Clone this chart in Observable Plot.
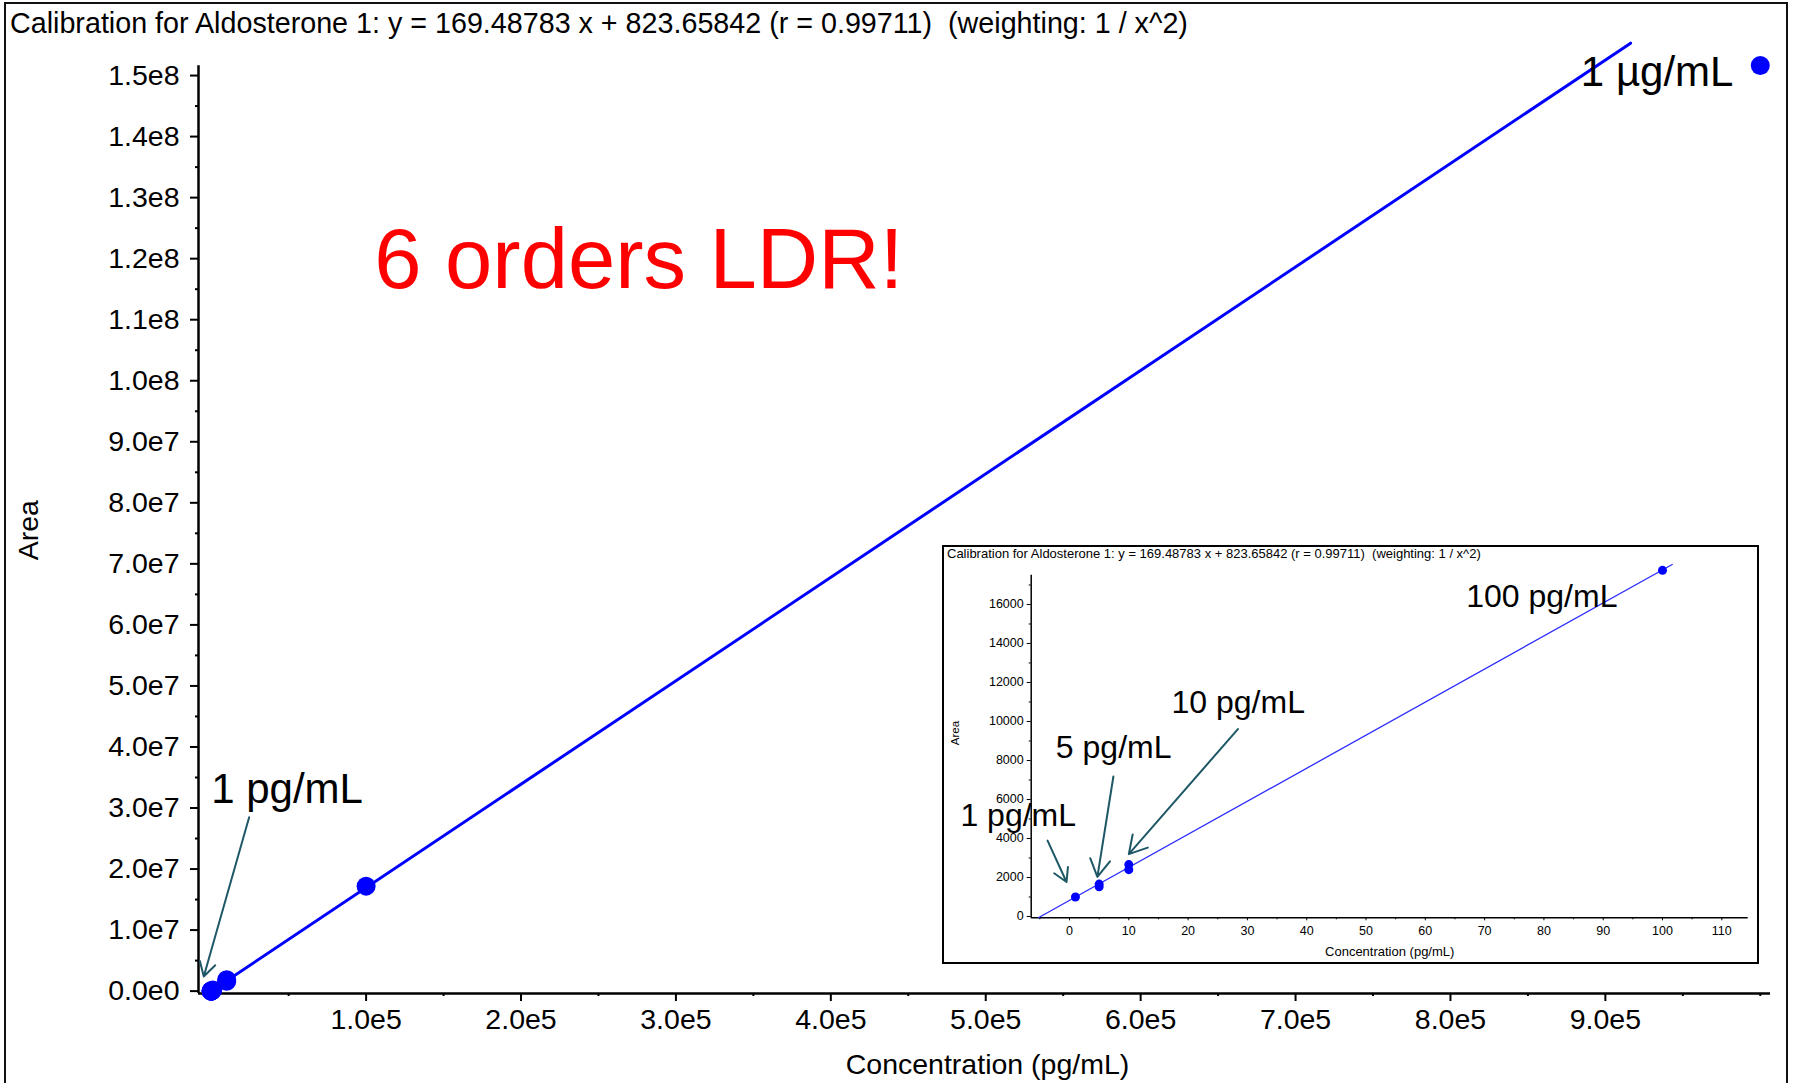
<!DOCTYPE html>
<html>
<head>
<meta charset="utf-8">
<script src="https://cdn.jsdelivr.net/npm/d3@7"></script>
<script src="https://cdn.jsdelivr.net/npm/@observablehq/plot@0.6"></script>
<style>
  html, body { margin: 0; padding: 0; background: #fff; }
  #page { position: relative; width: 1797px; height: 1083px; overflow: hidden;
          font-family: "Liberation Sans", Arial, sans-serif; color: #000; }
  #border { position: absolute; left: 4px; top: 2px; width: 1784px; height: 1120px;
            border: 2px solid #111; border-bottom: none; box-sizing: border-box; }
  #title { position: absolute; left: 10px; top: 9px; font-size: 28.7px; line-height: 28.7px; white-space: pre; }
  #main { position: absolute; left: 0; top: 40px; }
  #insetBox { position: absolute; left: 942px; top: 545px; width: 817px; height: 419px;
              border: 2px solid #000; box-sizing: border-box; background: #fff; }
  #inset { position: absolute; left: 944px; top: 547px; }
  #insetTitle { position: absolute; left: 947px; top: 547px; font-size: 13px; line-height: 13px; white-space: pre; }
</style>
</head>
<body>
<div id="page">
  <div id="border"></div>
  <div id="title"></div>
  <div id="main"></div>
  <div id="insetBox"></div>
  <div id="inset"></div>
  <div id="insetTitle"></div>
</div>
<script>
// Calibration fit reported by the software
const slope = 169.48783;
const intercept = 823.65842;
const r = 0.99711;
const titleText = `Calibration for Aldosterone 1: y = ${slope} x + ${intercept} (r = ${r})  (weighting: 1 / x^2)`;

// Full calibration series: concentration (pg/mL) and peak area
const mainConc = [1, 5, 5, 10, 10, 100, 1000, 10000, 10000, 100000, 1000000];
const mainArea = [997, 1520, 1660, 2400, 2660, 17750, 170000, 1600000, 1850000, 17200000, 151650000];

// Low end of the curve (1–100 pg/mL) for the zoomed panel
const lowConc = [1, 5, 5, 10, 10, 100];
const lowArea = [997, 1520, 1660, 2400, 2660, 17750];

// Axis ticks for the full curve
const mainXMajor = [1e5, 2e5, 3e5, 4e5, 5e5, 6e5, 7e5, 8e5, 9e5];
const mainXMinor = [0, 5e4, 1.5e5, 2.5e5, 3.5e5, 4.5e5, 5.5e5, 6.5e5, 7.5e5, 8.5e5, 9.5e5, 1e6];
const mainYMajor = [0, 1e7, 2e7, 3e7, 4e7, 5e7, 6e7, 7e7, 8e7, 9e7, 1e8, 1.1e8, 1.2e8, 1.3e8, 1.4e8, 1.5e8];
const mainYMinor = [5e6, 1.5e7, 2.5e7, 3.5e7, 4.5e7, 5.5e7, 6.5e7, 7.5e7, 8.5e7, 9.5e7, 1.05e8, 1.15e8, 1.25e8, 1.35e8, 1.45e8];

// Axis ticks for the zoomed panel
const lowXMajor = [0, 10, 20, 30, 40, 50, 60, 70, 80, 90, 100, 110];
const lowXMinor = [-5, 5, 15, 25, 35, 45, 55, 65, 75, 85, 95, 105];
const lowYMajor = [0, 2000, 4000, 6000, 8000, 10000, 12000, 14000, 16000];
const lowYMinor = [1000, 3000, 5000, 7000, 9000, 11000, 13000, 15000, 17000];

// Annotations (data coordinates)
const mainNotes = [
  {text: "1 pg/mL", x: 0, y: 3.30e7, size: 42, fill: "#000", anchor: "start"},
  {text: "1 µg/mL", x: 982700, y: 1.505e8, size: 42, fill: "#000", anchor: "end"},
  {text: "6 orders LDR!", x: 105200, y: 1.197e8, size: 85, fill: "#ff0000", anchor: "start"}
];
const mainArrows = [{x1: 24500, y1: 2.85e7, x2: -4800, y2: 2.4e6}];
const lowNotes = [
  {text: "100 pg/mL", x: 66.9, y: 16380},
  {text: "10 pg/mL", x: 17.2, y: 10960},
  {text: "5 pg/mL", x: -2.3, y: 8660},
  {text: "1 pg/mL", x: -18.4, y: 5180}
];
const lowArrows = [
  {x1: -3.7, y1: 3890, x2: -0.5, y2: 1770},
  {x1: 7.4, y1: 7180, x2: 4.7, y2: 2030},
  {x1: 28.4, y1: 9610, x2: 10.0, y2: 3200}
];

const FONT = '"Liberation Sans", Arial, sans-serif';
const arrowColor = "#1e5866";
const sci = d => d3.format(".1e")(d).replace("e+", "e");
const inv = y => (y - intercept) / slope;

const mainPts = mainConc.map((c, i) => ({conc: c, area: mainArea[i]}));
const lowPts = lowConc.map((c, i) => ({conc: c, area: lowArea[i]}));

// ---- full calibration curve ----
const mX = [-8200, 1006600];
const mY = [-3.9e5, 1.553e8];
const mYAxisTop = 1.516e8;
// fitted line across the plotted range
const mainFit = [mY[0], mY[1]].map(y => ({conc: inv(y), area: y}));

const main = Plot.plot({
  width: 1790,
  height: 1043,
  marginLeft: 198,
  marginRight: 20,
  marginTop: 2.7,
  marginBottom: 90,
  x: {domain: mX},
  y: {domain: mY},
  style: {fontFamily: FONT, fontSize: "28.5px", color: "#000", background: "transparent", overflow: "visible"},
  marks: [
    Plot.ruleY([mY[0]], {x1: mX[0], x2: mX[1], stroke: "#000", strokeWidth: 2.5}),
    Plot.ruleX([mX[0]], {y1: mY[0], y2: mYAxisTop, stroke: "#000", strokeWidth: 2.5}),
    Plot.axisY({ticks: mainYMajor, tickSize: 8, tickPadding: 11, tickFormat: sci, strokeWidth: 2, label: null}),
    Plot.axisY({ticks: mainYMinor, tickSize: 3, tickFormat: () => "", strokeWidth: 2, label: null}),
    Plot.axisX({ticks: mainXMajor, tickSize: 8, tickPadding: 7, tickFormat: sci, strokeWidth: 2, label: null}),
    Plot.axisX({ticks: mainXMinor, tickSize: 3, tickFormat: () => "", strokeWidth: 2, label: null}),
    Plot.text(["Concentration (pg/mL)"], {frameAnchor: "bottom", dx: 3, dy: 71, fontSize: 28.5, lineAnchor: "middle"}),
    Plot.text(["Area"], {frameAnchor: "left", rotate: -90, dx: -170, dy: 42, fontSize: 28.5, lineAnchor: "middle"}),
    Plot.line(mainFit, {x: "conc", y: "area", stroke: "#0000ff", strokeWidth: 3}),
    Plot.dot(mainPts, {x: "conc", y: "area", r: 9.5, fill: "#0000ff", stroke: "none"}),
    Plot.arrow(mainArrows, {x1: "x1", y1: "y1", x2: "x2", y2: "y2", stroke: arrowColor, strokeWidth: 2, headLength: 12, headAngle: 60}),
    Plot.text(mainNotes, {x: "x", y: "y", text: "text", fontSize: d => d.size, fill: d => d.fill, lineAnchor: "middle"})
  ]
});
document.getElementById("main").append(main);
// textAnchor is a constant option, so set each note's anchor afterwards
main.querySelectorAll("text").forEach(t => {
  const note = mainNotes.find(n => n.text === t.textContent);
  if (note) t.setAttribute("text-anchor", note.anchor);
});

// ---- zoomed low-concentration panel ----
const lX = [-6.46, 114.45];
const lY = [-67, 18050];
const lYAxisTop = 17500;
const lowFit = [lY[0], lY[1]].map(y => ({conc: inv(y), area: y}));

const inset = Plot.plot({
  width: 812,
  height: 414,
  marginLeft: 86.7,
  marginRight: 8.3,
  marginTop: 17,
  marginBottom: 43.7,
  x: {domain: lX},
  y: {domain: lY},
  style: {fontFamily: FONT, fontSize: "12.5px", color: "#000", background: "transparent", overflow: "visible"},
  marks: [
    Plot.ruleY([lY[0]], {x1: lX[0], x2: lX[1], stroke: "#000", strokeWidth: 1.5}),
    Plot.ruleX([lX[0]], {y1: lY[0], y2: lYAxisTop, stroke: "#000", strokeWidth: 1.5}),
    Plot.axisY({ticks: lowYMajor, tickSize: 4, tickPadding: 3.5, tickFormat: d => String(d), label: null}),
    Plot.axisY({ticks: lowYMinor, tickSize: 2, tickFormat: () => "", label: null}),
    Plot.axisX({ticks: lowXMajor, tickSize: 3, tickPadding: 5.5, tickFormat: d => String(d), label: null}),
    Plot.axisX({ticks: lowXMinor, tickSize: 2, tickFormat: () => "", label: null}),
    Plot.text(["Concentration (pg/mL)"], {frameAnchor: "bottom", dy: 33.7, fontSize: 13, lineAnchor: "middle"}),
    Plot.text(["Area"], {frameAnchor: "left", rotate: -90, dx: -76, dy: 4, fontSize: 11.5, lineAnchor: "middle"}),
    Plot.line(lowFit, {x: "conc", y: "area", stroke: "#2b2bff", strokeWidth: 1.3}),
    Plot.dot(lowPts, {x: "conc", y: "area", r: 4.5, fill: "#0000ff", stroke: "none"}),
    Plot.arrow(lowArrows, {x1: "x1", y1: "y1", x2: "x2", y2: "y2", stroke: arrowColor, strokeWidth: 2, headLength: 15, headAngle: 60}),
    Plot.text(lowNotes, {x: "x", y: "y", text: "text", fontSize: 32, textAnchor: "start", lineAnchor: "middle"})
  ]
});
document.getElementById("inset").append(inset);

document.getElementById("title").textContent = titleText;
document.getElementById("insetTitle").textContent = titleText;
</script>
</body>
</html>
